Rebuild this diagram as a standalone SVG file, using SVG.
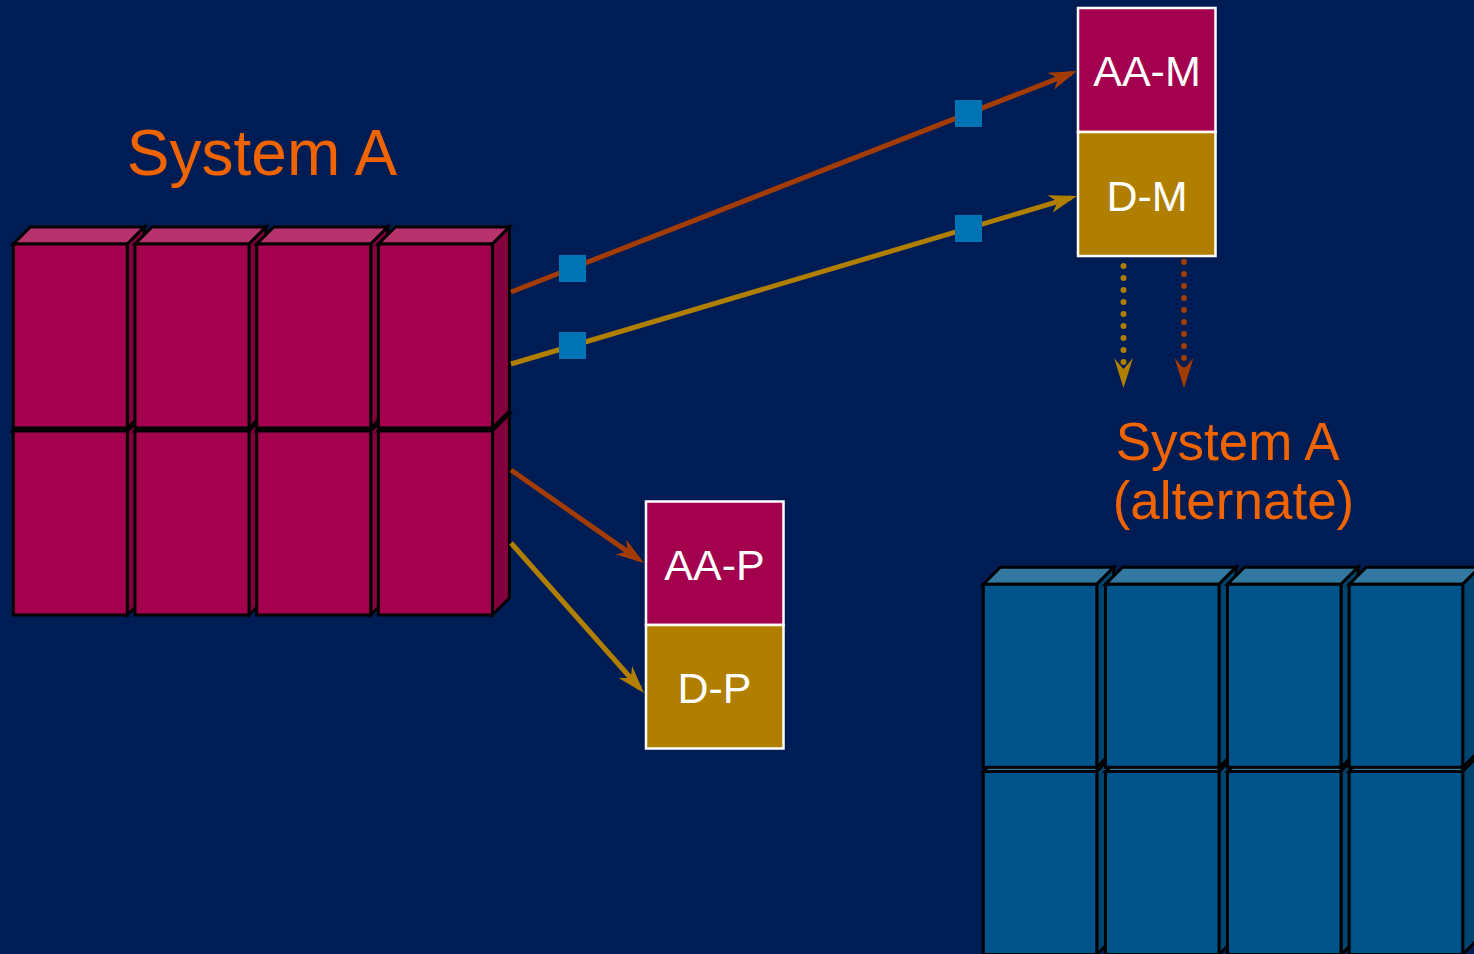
<svg xmlns="http://www.w3.org/2000/svg" xmlns:xlink="http://www.w3.org/1999/xlink" width="1474" height="954" viewBox="0 0 1474 954">
  <style>
    .cube-edge { stroke: #000; stroke-width: 3; stroke-linejoin: miter; }
    .m-front { fill: #A3004E; }
    .m-top { fill: #B8336E; }
    .m-side { fill: #82003E; }
    .b-front { fill: #00548C; }
    .b-top { fill: #3378A1; }
    .b-side { fill: #00456F; }
    .box { stroke: #FFFFFF; stroke-width: 2.5; }
    .box-aa { fill: #A3004E; }
    .box-d { fill: #B07F00; }
    .box-label { font-family: "Liberation Sans", Arial, sans-serif; font-size: 43px; fill: #FFFFFF; text-anchor: middle; }
    .title { font-family: "Liberation Sans", Arial, sans-serif; fill: #F06400; text-anchor: middle; }
    .link { fill: none; stroke-width: 5; stroke-linecap: butt; }
    .rust { stroke: #A33C02; }
    .gold { stroke: #B07F00; }
    .dotted { fill: none; stroke-width: 6; stroke-linecap: round; stroke-dasharray: 0 12; }
    .tap { fill: #0073B4; }
  </style>
  <defs>
    <!-- one magenta storage cube: front face, top bevel, right side -->
    <g id="cube-m">
      <polygon class="m-top cube-edge" points="0,0 17,-17 131,-17 114,0"/>
      <polygon class="m-side cube-edge" points="114,0 131,-17 131,167 114,184"/>
      <rect class="m-front cube-edge" x="0" y="0" width="114" height="184"/>
    </g>
    <!-- one blue storage cube -->
    <g id="cube-b">
      <polygon class="b-top cube-edge" points="0,0 17,-17 130.5,-17 113.5,0"/>
      <polygon class="b-side cube-edge" points="113.5,0 130.5,-17 130.5,166 113.5,183"/>
      <rect class="b-front cube-edge" x="0" y="0" width="113.5" height="183"/>
    </g>
    <marker id="arrow-rust" markerUnits="userSpaceOnUse" viewBox="0 0 28 18" markerWidth="28" markerHeight="18" refX="22" refY="9" orient="auto">
      <path d="M0,0 L28,9 L0,18 L8,9 Z" fill="#A33C02"/>
    </marker>
    <marker id="arrow-gold" markerUnits="userSpaceOnUse" viewBox="0 0 28 18" markerWidth="28" markerHeight="18" refX="22" refY="9" orient="auto">
      <path d="M0,0 L28,9 L0,18 L8,9 Z" fill="#B07F00"/>
    </marker>
    <marker id="drop-rust" markerUnits="userSpaceOnUse" viewBox="0 0 30 19" markerWidth="30" markerHeight="19" refX="24" refY="9.5" orient="auto">
      <path d="M0,0 L30,9.5 L0,19 L11,9.5 Z" fill="#A33C02"/>
    </marker>
    <marker id="drop-gold" markerUnits="userSpaceOnUse" viewBox="0 0 30 19" markerWidth="30" markerHeight="19" refX="24" refY="9.5" orient="auto">
      <path d="M0,0 L30,9.5 L0,19 L11,9.5 Z" fill="#B07F00"/>
    </marker>
  </defs>

  <rect x="0" y="0" width="1474" height="954" fill="#001C54"/>

  <!-- primary system: two rows of four cubes -->
  <g id="system-a">
    <text class="title" x="262" y="175" font-size="64">System A</text>
    <g id="system-a-row2">
      <use xlink:href="#cube-m" x="13.3" y="431"/>
      <use xlink:href="#cube-m" x="135" y="431"/>
      <use xlink:href="#cube-m" x="256.7" y="431"/>
      <use xlink:href="#cube-m" x="378.4" y="431"/>
    </g>
    <g id="system-a-row1">
      <use xlink:href="#cube-m" x="13.3" y="244"/>
      <use xlink:href="#cube-m" x="135" y="244"/>
      <use xlink:href="#cube-m" x="256.7" y="244"/>
      <use xlink:href="#cube-m" x="378.4" y="244"/>
    </g>
  </g>

  <!-- alternate system: cubes running off the lower right edge -->
  <g id="system-a-alternate">
    <text class="title" font-size="53">
      <tspan x="1233.5" y="460">System A</tspan>
      <tspan x="1233.5" y="519">(alternate)</tspan>
    </text>
    <g id="system-a-alternate-row2">
      <use xlink:href="#cube-b" x="983.3" y="771.5"/>
      <use xlink:href="#cube-b" x="1105.5" y="771.5"/>
      <use xlink:href="#cube-b" x="1227.5" y="771.5"/>
      <use xlink:href="#cube-b" x="1349.2" y="771.5"/>
    </g>
    <g id="system-a-alternate-row1">
      <use xlink:href="#cube-b" x="983.3" y="584.3"/>
      <use xlink:href="#cube-b" x="1105.5" y="584.3"/>
      <use xlink:href="#cube-b" x="1227.5" y="584.3"/>
      <use xlink:href="#cube-b" x="1349.2" y="584.3"/>
    </g>
  </g>

  <!-- mirrored volumes -->
  <g id="aa-m">
    <rect class="box box-aa" x="1078" y="8" width="137.5" height="124"/>
    <text class="box-label" x="1147" y="86">AA-M</text>
  </g>
  <g id="d-m">
    <rect class="box box-d" x="1078" y="132" width="137.5" height="124"/>
    <text class="box-label" x="1147" y="210.5">D-M</text>
  </g>

  <!-- point-in-time copies -->
  <g id="aa-p">
    <rect class="box box-aa" x="646" y="501.5" width="137.5" height="123.5"/>
    <text class="box-label" x="714.5" y="579.5">AA-P</text>
  </g>
  <g id="d-p">
    <rect class="box box-d" x="646" y="625" width="137.5" height="123.5"/>
    <text class="box-label" x="714.5" y="702.5">D-P</text>
  </g>

  <g id="connectors">
    <line class="link rust" x1="511" y1="292" x2="1071.4" y2="73.2" marker-end="url(#arrow-rust)"/>
    <line class="link gold" x1="511" y1="364" x2="1071.2" y2="197.7" marker-end="url(#arrow-gold)"/>
    <line class="link rust" x1="511" y1="470" x2="639.1" y2="559.6" marker-end="url(#arrow-rust)"/>
    <line class="link gold" x1="511" y1="543" x2="640" y2="688.5" marker-end="url(#arrow-gold)"/>
    <path class="dotted gold" d="M1123.5,266 L1123.5,382" marker-end="url(#drop-gold)"/>
    <path class="dotted rust" d="M1184,262 L1184,382" marker-end="url(#drop-rust)"/>
    <!-- link endpoints shown as small blue taps -->
    <rect class="tap" x="559" y="255" width="27" height="27"/>
    <rect class="tap" x="559" y="332" width="27" height="27"/>
    <rect class="tap" x="955" y="100" width="27" height="27"/>
    <rect class="tap" x="955" y="215" width="27" height="27"/>
  </g>
</svg>
